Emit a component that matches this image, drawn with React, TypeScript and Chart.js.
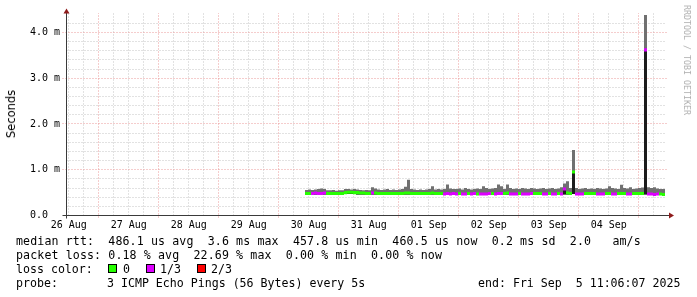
import React, { useEffect, useRef } from "react";
import { Chart, registerables } from "chart.js";

Chart.register(...registerables);

// ---- time axis: hours since 26 Aug 2025 00:00 ----
const X_MIN_HOUR = 11.1; // 26 Aug 11:06
const X_SPAN_HOURS = 240; // 10 days, end Fri Sep 5 11:06:07
const X_MAX_HOUR = X_MIN_HOUR + X_SPAN_HOURS;
const DAY_LABELS = ["26 Aug", "27 Aug", "28 Aug", "29 Aug", "30 Aug", "31 Aug", "01 Sep", "02 Sep", "03 Sep", "04 Sep"];

// ---- samples (one per 1.2 h) ----
const SAMPLE_FIRST_HOUR = 107.1;
const SAMPLE_STEP_HOURS = 1.2;

// median rtt (ms)
const RTT_MEDIAN = [
  0.48, 0.48, 0.48, 0.49, 0.48, 0.48, 0.49, 0.48, 0.48, 0.48,
  0.48, 0.48, 0.48, 0.50, 0.51, 0.51, 0.50, 0.50, 0.49, 0.49,
  0.48, 0.48, 0.49, 0.49, 0.48, 0.48, 0.48, 0.48, 0.48, 0.48,
  0.48, 0.48, 0.48, 0.49, 0.49, 0.48, 0.48, 0.48, 0.48, 0.48,
  0.48, 0.48, 0.49, 0.48, 0.48, 0.48, 0.47, 0.48, 0.47, 0.48,
  0.47, 0.48, 0.47, 0.47, 0.48, 0.47, 0.48, 0.47, 0.47, 0.47,
  0.47, 0.48, 0.48, 0.47, 0.48, 0.48, 0.48, 0.49, 0.47, 0.47,
  0.47, 0.48, 0.47, 0.47, 0.47, 0.48, 0.48, 0.48, 0.48, 0.47,
  0.47, 0.48, 0.47, 0.47, 0.48, 0.47, 0.58, 0.49, 0.48, 0.95,
  0.47, 0.47, 0.47, 0.48, 0.48, 0.48, 0.48, 0.47, 0.47, 0.47,
  0.48, 0.48, 0.47, 0.47, 0.48, 0.48, 0.48, 0.47, 0.47, 0.48,
  0.48, 0.48, 0.48, 3.62, 0.47, 0.47, 0.458, 0.47, 0.47, 0.46,
];

// fastest ping (ms)
const RTT_MIN = [
  0.46, 0.46, 0.45, 0.46, 0.46, 0.45, 0.46, 0.46, 0.46, 0.45,
  0.46, 0.46, 0.46, 0.47, 0.47, 0.47, 0.47, 0.46, 0.46, 0.46,
  0.46, 0.45, 0.46, 0.46, 0.46, 0.46, 0.45, 0.46, 0.46, 0.46,
  0.46, 0.45, 0.46, 0.46, 0.46, 0.46, 0.46, 0.45, 0.46, 0.46,
  0.46, 0.46, 0.46, 0.46, 0.45, 0.46, 0.45, 0.46, 0.45, 0.46,
  0.45, 0.46, 0.45, 0.45, 0.46, 0.45, 0.46, 0.45, 0.45, 0.45,
  0.45, 0.46, 0.46, 0.45, 0.46, 0.46, 0.46, 0.46, 0.45, 0.45,
  0.45, 0.46, 0.45, 0.45, 0.45, 0.46, 0.46, 0.46, 0.46, 0.45,
  0.45, 0.46, 0.45, 0.45, 0.46, 0.45, 0.46, 0.46, 0.46, 0.47,
  0.45, 0.45, 0.45, 0.46, 0.46, 0.46, 0.46, 0.45, 0.45, 0.45,
  0.46, 0.46, 0.45, 0.45, 0.46, 0.46, 0.46, 0.45, 0.45, 0.46,
  0.46, 0.46, 0.46, 0.46, 0.45, 0.45, 0.45, 0.45, 0.45, 0.45,
];

// slowest ping (ms)
const RTT_MAX = [
  0.56, 0.57, 0.56, 0.57, 0.58, 0.59, 0.58, 0.55, 0.55, 0.56,
  0.54, 0.55, 0.55, 0.58, 0.58, 0.57, 0.58, 0.57, 0.56, 0.55,
  0.56, 0.55, 0.62, 0.59, 0.57, 0.56, 0.57, 0.58, 0.56, 0.57,
  0.56, 0.57, 0.58, 0.63, 0.78, 0.58, 0.57, 0.56, 0.57, 0.56,
  0.57, 0.58, 0.64, 0.57, 0.58, 0.57, 0.58, 0.68, 0.59, 0.58,
  0.58, 0.59, 0.57, 0.60, 0.58, 0.57, 0.58, 0.59, 0.58, 0.64,
  0.60, 0.58, 0.59, 0.60, 0.68, 0.64, 0.58, 0.68, 0.60, 0.58,
  0.59, 0.58, 0.60, 0.59, 0.58, 0.60, 0.59, 0.58, 0.59, 0.60,
  0.58, 0.59, 0.60, 0.58, 0.59, 0.62, 0.70, 0.75, 0.60, 1.43,
  0.60, 0.58, 0.59, 0.60, 0.58, 0.59, 0.58, 0.60, 0.59, 0.58,
  0.59, 0.64, 0.60, 0.59, 0.58, 0.67, 0.60, 0.59, 0.62, 0.58,
  0.59, 0.60, 0.61, 4.38, 0.62, 0.60, 0.62, 0.59, 0.58, 0.58,
];

// lost pings per sample (0 = 0, 1 = 1/3, 2 = 2/3)
const LOSS = [
  0, 0, 1, 1, 1, 1, 1, 0, 0, 0,
  0, 0, 0, 0, 0, 0, 0, 0, 0, 0,
  0, 0, 1, 0, 0, 0, 0, 0, 0, 0,
  0, 0, 0, 0, 0, 0, 0, 0, 0, 0,
  0, 0, 0, 0, 0, 0, 1, 1, 1, 1,
  1, 0, 1, 1, 0, 1, 1, 0, 1, 1,
  1, 1, 0, 1, 1, 1, 0, 0, 1, 1,
  1, 0, 1, 1, 1, 1, 0, 0, 0, 1,
  1, 0, 1, 1, 0, 1, 1, 0, 0, 0,
  1, 1, 1, 0, 0, 0, 0, 1, 1, 1,
  0, 0, 1, 1, 0, 0, 0, 1, 1, 0,
  0, 0, 0, 1, 1, 1, 1, 1, 0, 0,
];

const LOSS_LABELS = ["0", "1/3", "2/3"];
const LOSS_COLORS = ["#26ff00", "#dd00ff", "#ff0000"];

// ---- y axis (ms) ----
const Y_MAX = 4.426;
const Y_MINOR_STEP = 0.2;

// ---- legend text ----
const RTT_STATS = ["486.1 us avg", "3.6 ms max", "457.8 us min", "460.5 us now", "0.2 ms sd", "2.0   am/s"];
const LOSS_STATS = ["0.18 % avg", "22.69 % max", "0.00 % min", "0.00 % now"];
const PROBE_TEXT = "3 ICMP Echo Pings (56 Bytes) every 5s";
const END_TEXT = "end: Fri Sep  5 11:06:07 2025";

// ---- styles ----
const MONO = '"DejaVu Sans Mono", monospace';
const GRID_MINOR = "#c4c4c4";
const GRID_MAJOR = "#eb9a9a";
const GRID_DASH = [1, 2];
const AXIS_COLOR = "#3a3a3a";
const ARROW_COLOR = "#8e1b1b";
const SMOKE_LIGHT = "#707070";
const SMOKE_DARK = "#1c1c1c";
const MEDIAN_HALF_MS = 0.033; // half of the 3px median stroke

const isMajorXValue = (v: number) => Math.round(v) % 24 === 0;
const isMajorYValue = (v: number) => v > 0 && Math.abs(v - Math.round(v)) < 1e-6;

const crisp = (p: number) => Math.floor(p) + 0.5;

// dotted rrdtool-style grid, drawn from the chart's own scale ticks
const gridPlugin = {
  id: "rrdGrid",
  beforeDatasetsDraw(chart: any) {
    const { ctx, chartArea: a } = chart;
    const xs = chart.scales.x;
    const ys = chart.scales.y;
    const seg = (x1: number, y1: number, x2: number, y2: number, color: string) => {
      ctx.save();
      ctx.lineWidth = 1;
      ctx.strokeStyle = color;
      ctx.setLineDash(GRID_DASH);
      ctx.lineDashOffset = 0;
      ctx.beginPath();
      ctx.moveTo(x1, y1);
      ctx.lineTo(x2, y2);
      ctx.stroke();
      ctx.restore();
    };
    for (const major of [false, true]) {
      for (const t of xs.ticks) {
        if (isMajorXValue(t.value) !== major) continue;
        const px = crisp(xs.getPixelForValue(t.value));
        seg(px, a.bottom + (major ? 2 : 0), px, a.top, major ? GRID_MAJOR : GRID_MINOR);
      }
      for (const t of ys.ticks) {
        if (t.value === 0 || isMajorYValue(t.value) !== major) continue;
        const py = crisp(ys.getPixelForValue(t.value));
        seg(a.left - (major ? 4 : 0), py, a.right, py, major ? GRID_MAJOR : GRID_MINOR);
      }
    }
  },
};

const axesPlugin = {
  id: "rrdAxes",
  afterDatasetsDraw(chart: any) {
    const { ctx, chartArea: a } = chart;
    const x0 = crisp(chart.scales.x.getPixelForValue(X_MIN_HOUR));
    const y0 = crisp(chart.scales.y.getPixelForValue(0));
    ctx.save();
    ctx.setLineDash([]);
    ctx.lineWidth = 1;
    ctx.strokeStyle = AXIS_COLOR;
    ctx.beginPath();
    ctx.moveTo(x0 - 4, y0);
    ctx.lineTo(a.right + 3, y0);
    ctx.moveTo(x0, y0 + 3);
    ctx.lineTo(x0, a.top - 1);
    ctx.stroke();
    ctx.fillStyle = ARROW_COLOR;
    ctx.beginPath();
    ctx.moveTo(x0, a.top - 4.5);
    ctx.lineTo(x0 - 3, a.top + 0.5);
    ctx.lineTo(x0 + 3, a.top + 0.5);
    ctx.closePath();
    ctx.fill();
    ctx.beginPath();
    ctx.moveTo(a.right + 7.5, y0);
    ctx.lineTo(a.right + 2.5, y0 - 3);
    ctx.lineTo(a.right + 2.5, y0 + 3);
    ctx.closePath();
    ctx.fill();
    ctx.restore();
  },
};

export default function App() {
  const ref = useRef<HTMLCanvasElement>(null);

  useEffect(() => {
    const canvas = ref.current;
    if (!canvas) return;
    const hours = RTT_MEDIAN.map((_, i) => SAMPLE_FIRST_HOUR + i * SAMPLE_STEP_HOURS);

    const chart = new Chart(canvas, {
      type: "bar",
      data: {
        datasets: [
          {
            label: "median rtt",
            data: RTT_MEDIAN.map((m, i) => ({ x: hours[i], y: [m - MEDIAN_HALF_MS, m + MEDIAN_HALF_MS] })) as any,
            backgroundColor: LOSS.map((l) => LOSS_COLORS[l]),
            order: 0,
          },
          {
            label: "smoke low",
            data: RTT_MEDIAN.map((m, i) => ({ x: hours[i], y: [RTT_MIN[i], m] })) as any,
            backgroundColor: SMOKE_DARK,
            order: 1,
          },
          {
            label: "smoke",
            data: RTT_MAX.map((h, i) => ({ x: hours[i], y: [RTT_MIN[i], h] })) as any,
            backgroundColor: SMOKE_LIGHT,
            order: 2,
          },
        ],
      },
      options: {
        animation: false,
        responsive: false,
        maintainAspectRatio: false,
        events: [],
        layout: { padding: { top: 13, right: 30.5, left: 30, bottom: 0 } },
        plugins: { legend: { display: false }, tooltip: { enabled: false }, title: { display: false } },
        datasets: {
          bar: {
            grouped: false,
            barPercentage: 1,
            categoryPercentage: 1,
            borderWidth: 0,
            inflateAmount: 0,
          } as any,
        },
        scales: {
          x: {
            type: "linear",
            min: X_MIN_HOUR,
            max: X_MAX_HOUR,
            offset: false,
            afterFit: (s: any) => {
              s.height = 81.5;
            },
            afterBuildTicks: (s: any) => {
              const t: any[] = [];
              for (let h = Math.ceil(X_MIN_HOUR / 6) * 6; h <= X_MAX_HOUR; h += 6) t.push({ value: h });
              s.ticks = t;
            },
            ticks: {
              autoSkip: false,
              maxRotation: 0,
              minRotation: 0,
              padding: 4,
              color: "#000",
              font: { family: MONO, size: 10 },
              callback: (v: any) => {
                const h = Number(v);
                if (h % 24 !== 12) return "";
                return DAY_LABELS[(h - 12) / 24] ?? "";
              },
            },
            grid: { display: true, drawOnChartArea: false, drawTicks: false, offset: false, color: "rgba(0,0,0,0)" },
            border: { display: false },
          },
          y: {
            type: "linear",
            min: 0,
            max: Y_MAX,
            afterFit: (s: any) => {
              s.width = 36.5;
            },
            afterBuildTicks: (s: any) => {
              const t: any[] = [];
              for (let k = 0; k * Y_MINOR_STEP <= Y_MAX - 0.1; k++) t.push({ value: Math.round(k * Y_MINOR_STEP * 10) / 10 });
              s.ticks = t;
            },
            ticks: {
              autoSkip: false,
              crossAlign: "far",
              padding: 6.4,
              color: "#000",
              font: { family: MONO, size: 10 },
              callback: (v: any) => {
                const n = Number(v);
                if (n === 0) return "0.0";
                return Number.isInteger(n) ? `${n.toFixed(1)} m` : "";
              },
            },
            grid: { display: true, drawOnChartArea: false, drawTicks: false, color: "rgba(0,0,0,0)" },
            border: { display: false },
          },
        },
      },
      plugins: [gridPlugin, axesPlugin],
    });
    return () => chart.destroy();
  }, []);

  const textBase: React.CSSProperties = {
    position: "absolute",
    fontFamily: MONO,
    fontSize: "11.6px",
    lineHeight: "14px",
    color: "#000",
    whiteSpace: "pre",
  };
  // top = baseline - 11
  const line = (left: number, baseline: number, text: string, extra?: React.CSSProperties) => (
    <div style={{ ...textBase, left, top: baseline - 11, ...extra }}>{text}</div>
  );
  const boxLefts = [108, 146, 197];
  const boxLabelLefts = [123, 160, 211];

  return (
    <div style={{ position: "absolute", left: 0, top: 0, width: 697, height: 297, background: "#fff", overflow: "hidden" }}>
      <canvas ref={ref} width={697} height={297} style={{ position: "absolute", left: 0, top: 0, width: 697, height: 297 }} />
      <div
        style={{
          position: "absolute",
          left: 11,
          top: 113.5,
          transform: "translate(-50%, -50%) rotate(-90deg)",
          fontFamily: '"DejaVu Sans", sans-serif',
          fontSize: "11.5px",
          color: "#000",
          whiteSpace: "nowrap",
        }}
      >
        Seconds
      </div>
      <div
        style={{
          position: "absolute",
          left: 687.2,
          top: 60,
          transform: "translate(-50%, -50%) rotate(90deg)",
          fontFamily: MONO,
          fontSize: "8.3px",
          color: "#b0b0b0",
          whiteSpace: "nowrap",
        }}
      >
        RRDTOOL / TOBI OETIKER
      </div>
      {line(16, 245, "median rtt:  " + RTT_STATS.join("  "), { letterSpacing: "0.12px" })}
      {line(16, 259, "packet loss: " + LOSS_STATS.join("  "), { letterSpacing: "0.12px" })}
      {line(16, 273, "loss color:")}
      {LOSS_LABELS.map((lab, i) => (
        <React.Fragment key={lab}>
          <div
            style={{
              position: "absolute",
              left: boxLefts[i],
              top: 264,
              width: 9,
              height: 9,
              boxSizing: "border-box",
              border: "1px solid #000",
              background: LOSS_COLORS[i],
            }}
          />
          {line(boxLabelLefts[i], 273, lab)}
        </React.Fragment>
      ))}
      {line(16, 287, "probe:")}
      {line(107, 287, PROBE_TEXT)}
      {line(478, 287, END_TEXT)}
    </div>
  );
}
